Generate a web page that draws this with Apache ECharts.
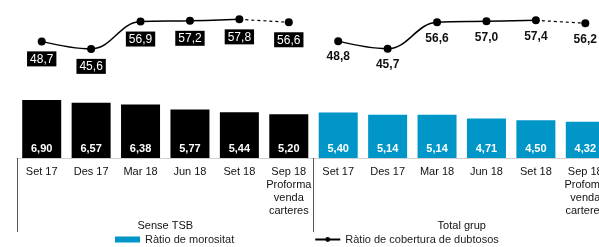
<!DOCTYPE html>
<html>
<head>
<meta charset="utf-8">
<script src="https://cdn.jsdelivr.net/npm/echarts@6/dist/echarts.min.js"></script>
<style>
  html, body { margin: 0; padding: 0; background: #fff; overflow: hidden; width: 599px; height: 247px; }
  #chart { width: 640px; height: 247px; }
</style>
</head>
<body>
<div id="chart"></div>
<script>
// periods, repeated for both groups
const periods = ['Set 17', 'Des 17', 'Mar 18', 'Jun 18', 'Set 18', 'Sep 18\nProforma\nvenda\ncarteres'];
const periodsTotal = ['Set 17', 'Des 17', 'Mar 18', 'Jun 18', 'Set 18', 'Sep 18\nProfoma\nvenda\ncarteres'];
const groups = ['Sense TSB', 'Total grup'];

// Ràtio de morositat (%)
const morositatSenseTSB = [6.90, 6.57, 6.38, 5.77, 5.44, 5.20];
const morositatTotal = [5.40, 5.14, 5.14, 4.71, 4.50, 4.32];

// Ràtio de cobertura de dubtosos (%)
const coberturaSenseTSB = [48.7, 45.6, 56.9, 57.2, 57.8, 56.6];
const coberturaTotal = [48.8, 45.7, 56.6, 57.0, 57.4, 56.2];

const barName = 'Ràtio de morositat';
const lineName = 'Ràtio de cobertura de dubtosos';
const blue = '#0096c8';

const fmt = (v, d) => v.toFixed(d).replace('.', ',');

const categories = periods.concat(periodsTotal);

// bars: left group black, right group blue
const barData = morositatSenseTSB.map(v => ({ value: v, itemStyle: { color: '#000' } }))
  .concat(morositatTotal.map(v => ({ value: v })));

// label styles for the two groups
const boxLabel = {
  show: true, position: 'bottom', distance: 6,
  color: '#fff', backgroundColor: '#000', padding: [2, 3, 1, 3],
  fontSize: 12, fontFamily: 'Arial, Liberation Sans, sans-serif',
  formatter: p => fmt(p.value, 1)
};
const boldLabel = {
  show: true, position: 'bottom', distance: 6,
  color: '#111', fontSize: 12, fontWeight: 'bold',
  fontFamily: 'Arial, Liberation Sans, sans-serif',
  formatter: p => fmt(p.value, 1)
};

// solid part: first 5 points of each group, gap between groups
const solidData = [];
const dashData = [];
coberturaSenseTSB.forEach((v, i) => {
  solidData.push(i < 5 ? { value: v, label: boxLabel } : null);
  dashData.push(i >= 4 ? { value: v, label: i == 5 ? boxLabel : { show: false }, symbol: i == 5 ? 'circle' : 'none' } : null);
});
coberturaTotal.forEach((v, i) => {
  solidData.push(i < 5 ? { value: v, label: boldLabel } : null);
  dashData.push(i >= 4 ? { value: v, label: i == 5 ? boldLabel : { show: false }, symbol: i == 5 ? 'circle' : 'none' } : null);
});

const chart = echarts.init(document.getElementById('chart'));

chart.setOption({
  animation: false,
  textStyle: { fontFamily: 'Arial, Liberation Sans, sans-serif' },
  legend: {
    left: 115, top: 234,
    padding: 0,
    itemWidth: 25, itemHeight: 6, itemGap: 80,
    textStyle: { fontSize: 11, color: '#222' },
    data: [
      { name: barName, icon: 'rect' },
      { name: lineName }
    ]
  },
  grid: { left: 17, right: 30, top: 0, bottom: 89 },
  xAxis: [
    {
      type: 'category',
      data: categories,
      axisLine: { lineStyle: { color: '#d0d0d0', width: 1 } },
      axisTick: {
        show: true, length: 74,
        interval: (i) => i === 0 || i === 6,
        lineStyle: { color: '#555' }
      },
      axisLabel: { interval: 0, color: '#111', fontSize: 11, lineHeight: 13, margin: 7 }
    },
    {
      type: 'category',
      data: groups,
      position: 'bottom',
      offset: 54,
      axisLine: { show: false },
      axisTick: { show: false },
      axisLabel: { color: '#111', fontSize: 11, margin: 8 }
    }
  ],
  yAxis: [
    { type: 'value', min: 0, max: 18.8, show: false },
    { type: 'value', min: 0.5, max: 65.8, show: false }
  ],
  series: [
    {
      name: barName,
      type: 'bar',
      data: barData,
      barWidth: 39,
      itemStyle: { color: blue },
      label: {
        show: true, position: 'insideBottom', distance: 4,
        color: '#fff', fontWeight: 'bold', fontSize: 11,
        formatter: p => fmt(p.value, 2)
      }
    },
    {
      name: lineName,
      type: 'line',
      yAxisIndex: 1,
      data: solidData,
      smooth: 0.4,
      connectNulls: false,
      symbol: 'circle',
      symbolSize: 8,
      color: '#000',
      lineStyle: { color: '#000', width: 1.5 },
      itemStyle: { color: '#000' },
      z: 5
    },
    {
      name: lineName,
      type: 'line',
      yAxisIndex: 1,
      data: dashData,
      connectNulls: false,
      symbol: 'circle',
      symbolSize: 8,
      color: '#000',
      lineStyle: { color: '#000', width: 1.2, type: [3, 3] },
      itemStyle: { color: '#000' },
      z: 4
    }
  ]
});
</script>
</body>
</html>
